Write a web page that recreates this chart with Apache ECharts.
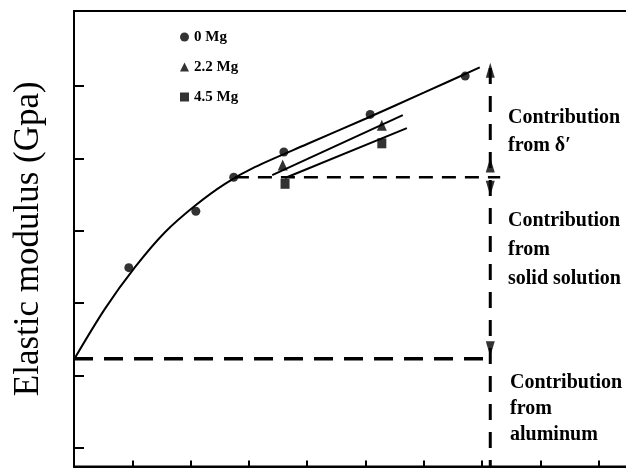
<!DOCTYPE html>
<html>
<head>
<meta charset="utf-8">
<script src="https://cdn.jsdelivr.net/npm/echarts@6/dist/echarts.min.js"></script>
<style>
html,body{margin:0;padding:0;background:#fff;}
#chart{width:626px;height:468px;}
</style>
</head>
<body>
<div id="chart"></div>
<script>
// ---- data (arbitrary units, no tick labels in the original) ----
const seriesNames = ['0 Mg', '2.2 Mg', '4.5 Mg'];
const mg0X = [0.94, 2.09, 2.74, 3.60, 5.08, 6.71];
const mg0Y = [2.49, 3.27, 3.74, 4.09, 4.61, 5.14];
const mg22X = [3.58, 5.28];
const mg22Y = [3.91, 4.46];
const mg45X = [3.62, 5.28];
const mg45Y = [3.65, 4.21];
// fitted lines
const fit0X = [0, 0.53, 1.05, 1.56, 2.08, 2.59, 3.10, 4.00, 5.00, 6.00, 6.96];
const fit0Y = [1.22, 1.92, 2.50, 2.98, 3.35, 3.65, 3.88, 4.20, 4.55, 4.91, 5.26];
const fit22X = [3.40, 5.64];
const fit22Y = [3.77, 4.60];
const fit45X = [3.62, 5.71];
const fit45Y = [3.73, 4.42];
// guide lines
const alLineX = [0, 7.14];
const alLineY = [1.23, 1.23];
const deltaLineX = [2.76, 7.31];
const deltaLineY = [3.74, 3.74];
const vertLineX = [7.14, 7.14];
const vertLineY = [5.25, -0.26];
// arrow heads
const arrowsUp = [[7.14, 5.22], [7.14, 3.91]];
const arrowsDown = [[7.14, 3.59], [7.14, 1.37]];
// axis ticks
const xTicks = [0, 1, 2, 3, 4, 5, 6, 7, 8, 9, 10];
const yTicks = [0, 1, 2, 3, 4, 5];
const yLabel = 'Elastic modulus (Gpa)';
const notes = ['Contribution\nfrom δ′', 'Contribution\nfrom\nsolid solution', 'Contribution\nfrom\naluminum'];

const zip = (xs, ys) => xs.map((x, i) => [x, ys[i]]);
const serif = '"Liberation Serif", "Times New Roman", serif';

const chart = echarts.init(document.getElementById('chart'), null, {renderer: 'canvas'});

const blackLine = (name, xs, ys, extra) => Object.assign({
  name: name, type: 'line', data: zip(xs, ys), showSymbol: false, symbol: 'none',
  lineStyle: {color: '#000', width: 2}, itemStyle: {color: '#000'}, z: 3, silent: true
}, extra || {});

const option = {
  animation: false,
  backgroundColor: '#fff',
  grid: {left: 74, top: 11, width: 583, bottom: 1.5, containLabel: false, outerBoundsMode: 'none',
         show: true, borderColor: '#000', borderWidth: 2, backgroundColor: 'transparent'},
  legend: {
    data: seriesNames, orient: 'vertical', left: 175, top: 24,
    itemWidth: 9, itemHeight: 9, itemGap: 14,
    textStyle: {fontFamily: serif, fontSize: 15, fontWeight: 'bold', color: '#000', lineHeight: 16},
    selectedMode: false
  },
  xAxis: {
    type: 'value', min: xTicks[0], max: xTicks[xTicks.length - 1], interval: 1,
    axisLine: {onZero: false, lineStyle: {color: '#000', width: 2}},
    axisTick: {inside: true, length: 6, lineStyle: {color: '#000', width: 2}},
    axisLabel: {show: false}, splitLine: {show: false}
  },
  yAxis: {
    type: 'value', min: -0.26, max: 6.04,
    name: yLabel, nameLocation: 'middle', nameGap: 28, nameRotate: 90,
    nameTextStyle: {fontFamily: serif, fontSize: 35, color: '#000'},
    axisLine: {onZero: false, lineStyle: {color: '#000', width: 2}},
    axisTick: {inside: true, length: 10, customValues: yTicks, lineStyle: {color: '#000', width: 2}},
    axisLabel: {show: false, customValues: yTicks}, splitLine: {show: false}
  },
  graphic: [
    {type: 'text', left: 508, top: 104, style: {text: notes[0], font: 'bold 20px ' + serif, fill: '#000', lineHeight: 28}},
    {type: 'text', left: 508, top: 206, style: {text: notes[1], font: 'bold 20px ' + serif, fill: '#000', lineHeight: 29}},
    {type: 'text', left: 510, top: 370, style: {text: notes[2], font: 'bold 20px ' + serif, fill: '#000', lineHeight: 26}}
  ],
  series: [
    blackLine('fit0', fit0X, fit0Y, {smooth: 0.3}),
    blackLine('fit22', fit22X, fit22Y),
    blackLine('fit45', fit45X, fit45Y),
    blackLine('al', alLineX, alLineY, {lineStyle: {color: '#000', width: 3.5, type: [19, 11]}}),
    blackLine('delta', deltaLineX, deltaLineY, {lineStyle: {color: '#000', width: 2.5, type: [14, 9]}}),
    blackLine('vert', vertLineX, vertLineY, {lineStyle: {color: '#000', width: 3, type: [16, 12]}}),
    {name: 'arrUp', type: 'scatter', data: arrowsUp, symbol: 'triangle', symbolSize: [9, 15], itemStyle: {color: '#000'}, z: 4, silent: true},
    {name: 'arrDown', type: 'scatter', data: arrowsDown, symbol: 'triangle', symbolRotate: 180, symbolSize: [9, 15], itemStyle: {color: '#000'}, z: 4, silent: true},
    {name: seriesNames[0], type: 'scatter', data: zip(mg0X, mg0Y), symbol: 'circle', symbolSize: 9, itemStyle: {color: '#000'}, z: 5},
    {name: seriesNames[1], type: 'scatter', data: zip(mg22X, mg22Y), symbol: 'triangle', symbolSize: [10, 11], itemStyle: {color: '#000'}, z: 5},
    {name: seriesNames[2], type: 'scatter', data: zip(mg45X, mg45Y), symbol: 'rect', symbolSize: [9, 10], itemStyle: {color: '#000'}, z: 5}
  ]
};
chart.setOption(option);
</script>
</body>
</html>
